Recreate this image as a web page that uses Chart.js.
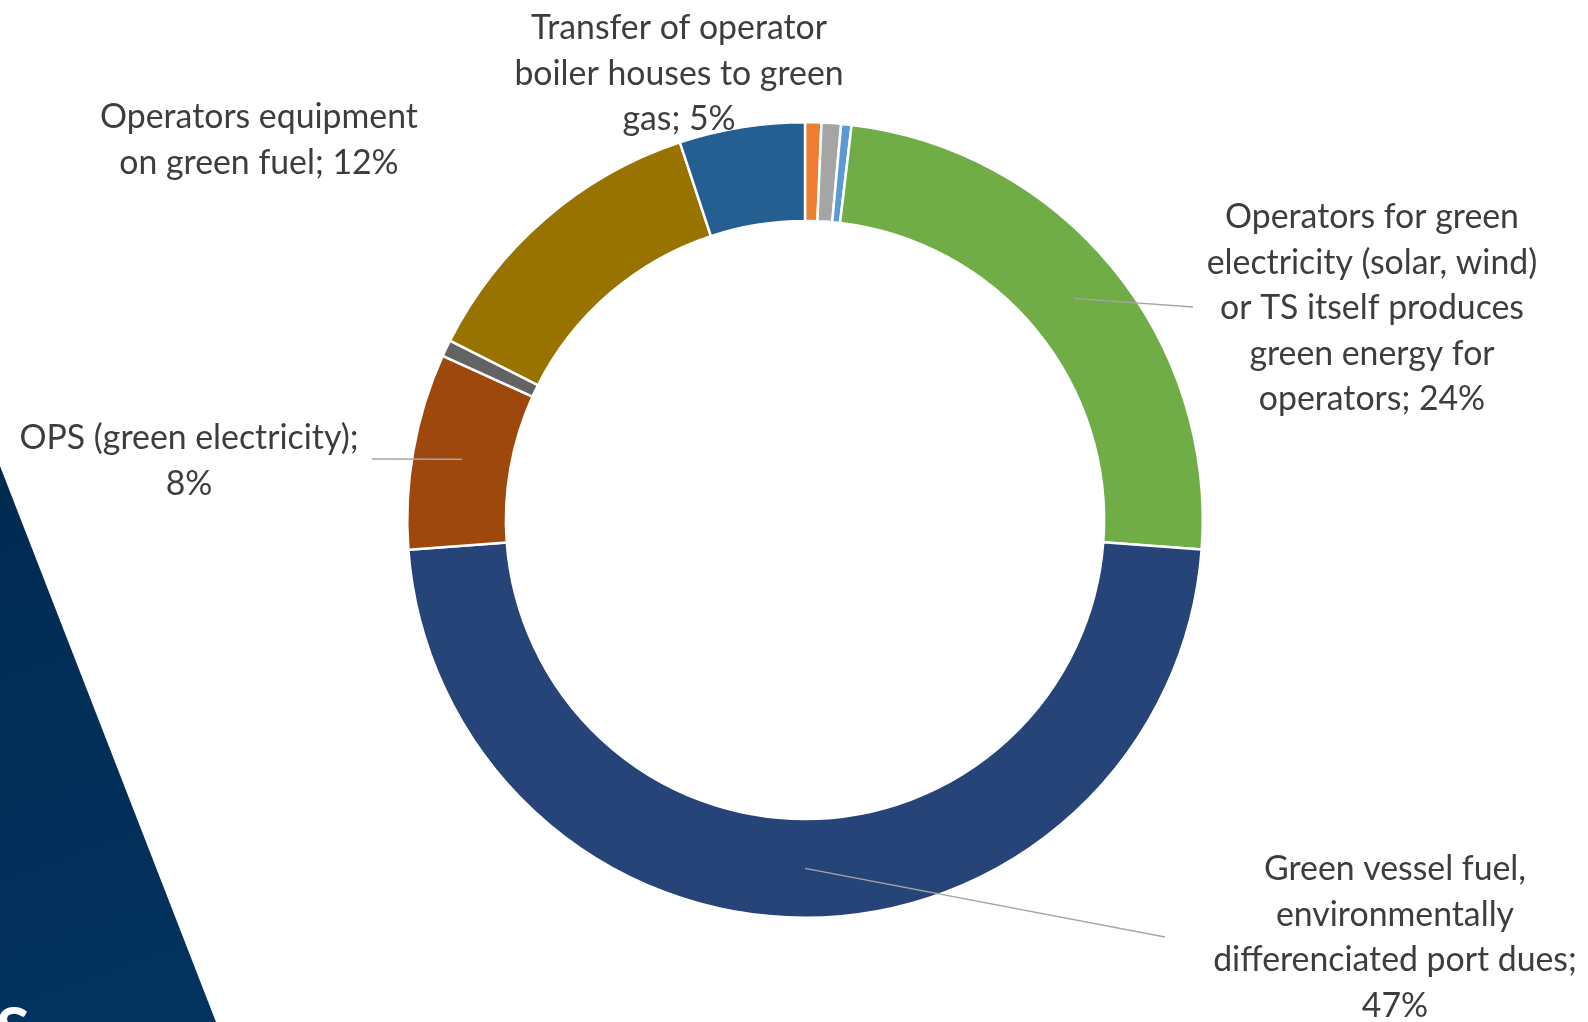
<!DOCTYPE html>
<html>
<head>
<meta charset="utf-8">
<script src="https://cdn.jsdelivr.net/npm/chart.js@4/dist/chart.umd.min.js"></script>
<style>
  html, body { margin: 0; padding: 0; background: #ffffff; }
  #wrap { width: 1588px; height: 1022px; position: relative; }
</style>
</head>
<body>
<div id="wrap"><canvas id="c" width="1588" height="1022"></canvas></div>
<script>
// ---- data ----
const categories = [
  'Other A', 'Other B', 'Other C',
  'Operators for green electricity (solar, wind) or TS itself produces green energy for operators',
  'Green vessel fuel, environmentally differenciated port dues',
  'OPS (green electricity)',
  'Other D',
  'Operators equipment on green fuel',
  'Transfer of operator boiler houses to green gas'
];
const values = [0.66, 0.79, 0.42, 24.3, 47.6, 7.96, 0.67, 12.46, 5.09];
const sliceColors = ['#ED7D31', '#A5A5A5', '#5B9BD5', '#70AD47', '#264478', '#9E480E', '#636363', '#997300', '#255E91'];
const percentLabels = ['', '', '', '24%', '47%', '8%', '', '12%', '5%'];
// label text broken into lines as in the reference
const labelLines = [
  null, null, null,
  ['Operators for green', 'electricity (solar, wind)', 'or TS itself produces', 'green energy for', 'operators; 24%'],
  ['Green vessel fuel,', 'environmentally', 'differenciated port dues;', '47%'],
  ['OPS (green electricity);', '8%'],
  null,
  ['Operators equipment', 'on green fuel; 12%'],
  ['Transfer of operator', 'boiler houses to green', 'gas; 5%']
];
// label placement (center x, first line y) and leader-line end points
const labelPos = [null, null, null, [1372, 217], [1395, 869], [189, 438], null, [259, 117], [679, 28]];
const leaderEnd = [null, null, null, [1193, 307], [1165, 937], [372, 459], null, null, null];

const LINE_H = 45.6;
const TEXT_COLOR = '#3d3d3d';
const FONT_FAMILY = 'Lato, "Open Sans", "Noto Sans", sans-serif';

const background = {
  id: 'background',
  beforeDraw(chart) {
    const ctx = chart.ctx;
    ctx.save();
    const g = ctx.createLinearGradient(0, 466, 200, 1022);
    g.addColorStop(0, '#012a52');
    g.addColorStop(1, '#03335f');
    ctx.fillStyle = g;
    ctx.beginPath();
    ctx.moveTo(0, 466);
    ctx.lineTo(216, 1022);
    ctx.lineTo(0, 1022);
    ctx.closePath();
    ctx.fill();
    ctx.fillStyle = '#ffffff';
    ctx.font = 'bold 62px ' + FONT_FAMILY;
    ctx.textBaseline = 'top';
    ctx.textAlign = 'left';
    ctx.fillText('S', -4, 1000);
    ctx.restore();
  }
};

const labelsPlugin = {
  id: 'sliceLabels',
  afterDatasetsDraw(chart) {
    const ctx = chart.ctx;
    const meta = chart.getDatasetMeta(0);
    ctx.save();
    // font size tuned so a reference line keeps its width
    ctx.font = '30px ' + FONT_FAMILY;
    const w = ctx.measureText('Operators equipment').width;
    const size = 30 * 318 / w;
    // leader lines
    ctx.strokeStyle = '#A6A6A6';
    ctx.lineWidth = 1.3;
    meta.data.forEach((arc, i) => {
      if (!leaderEnd[i]) return;
      const p = arc.getProps(['x', 'y', 'startAngle', 'endAngle', 'innerRadius', 'outerRadius'], true);
      const a = (p.startAngle + p.endAngle) / 2;
      const r = (p.innerRadius + p.outerRadius) / 2;
      ctx.beginPath();
      ctx.moveTo(p.x + Math.cos(a) * r, p.y + Math.sin(a) * r);
      ctx.lineTo(leaderEnd[i][0], leaderEnd[i][1]);
      ctx.stroke();
    });
    // texts
    ctx.fillStyle = TEXT_COLOR;
    ctx.font = size.toFixed(2) + 'px ' + FONT_FAMILY;
    ctx.textAlign = 'center';
    ctx.textBaseline = 'middle';
    labelLines.forEach((lines, i) => {
      if (!lines || !labelPos[i]) return;
      lines.forEach((t, k) => {
        ctx.fillText(t, labelPos[i][0], labelPos[i][1] + k * LINE_H);
      });
    });
    ctx.restore();
  }
};

new Chart(document.getElementById('c'), {
  type: 'doughnut',
  data: {
    labels: categories,
    datasets: [{
      data: values,
      backgroundColor: sliceColors,
      borderColor: '#ffffff',
      borderWidth: 2.5,
      hoverOffset: 0
    }]
  },
  options: {
    responsive: false,
    devicePixelRatio: 1,
    animation: false,
    events: [],
    cutout: '75.2%',
    rotation: 0,
    layout: { padding: { left: 406, right: 384, top: 121, bottom: 103 } },
    plugins: {
      legend: { display: false },
      tooltip: { enabled: false },
      title: { display: false }
    }
  },
  plugins: [background, labelsPlugin]
});
</script>
</body>
</html>
